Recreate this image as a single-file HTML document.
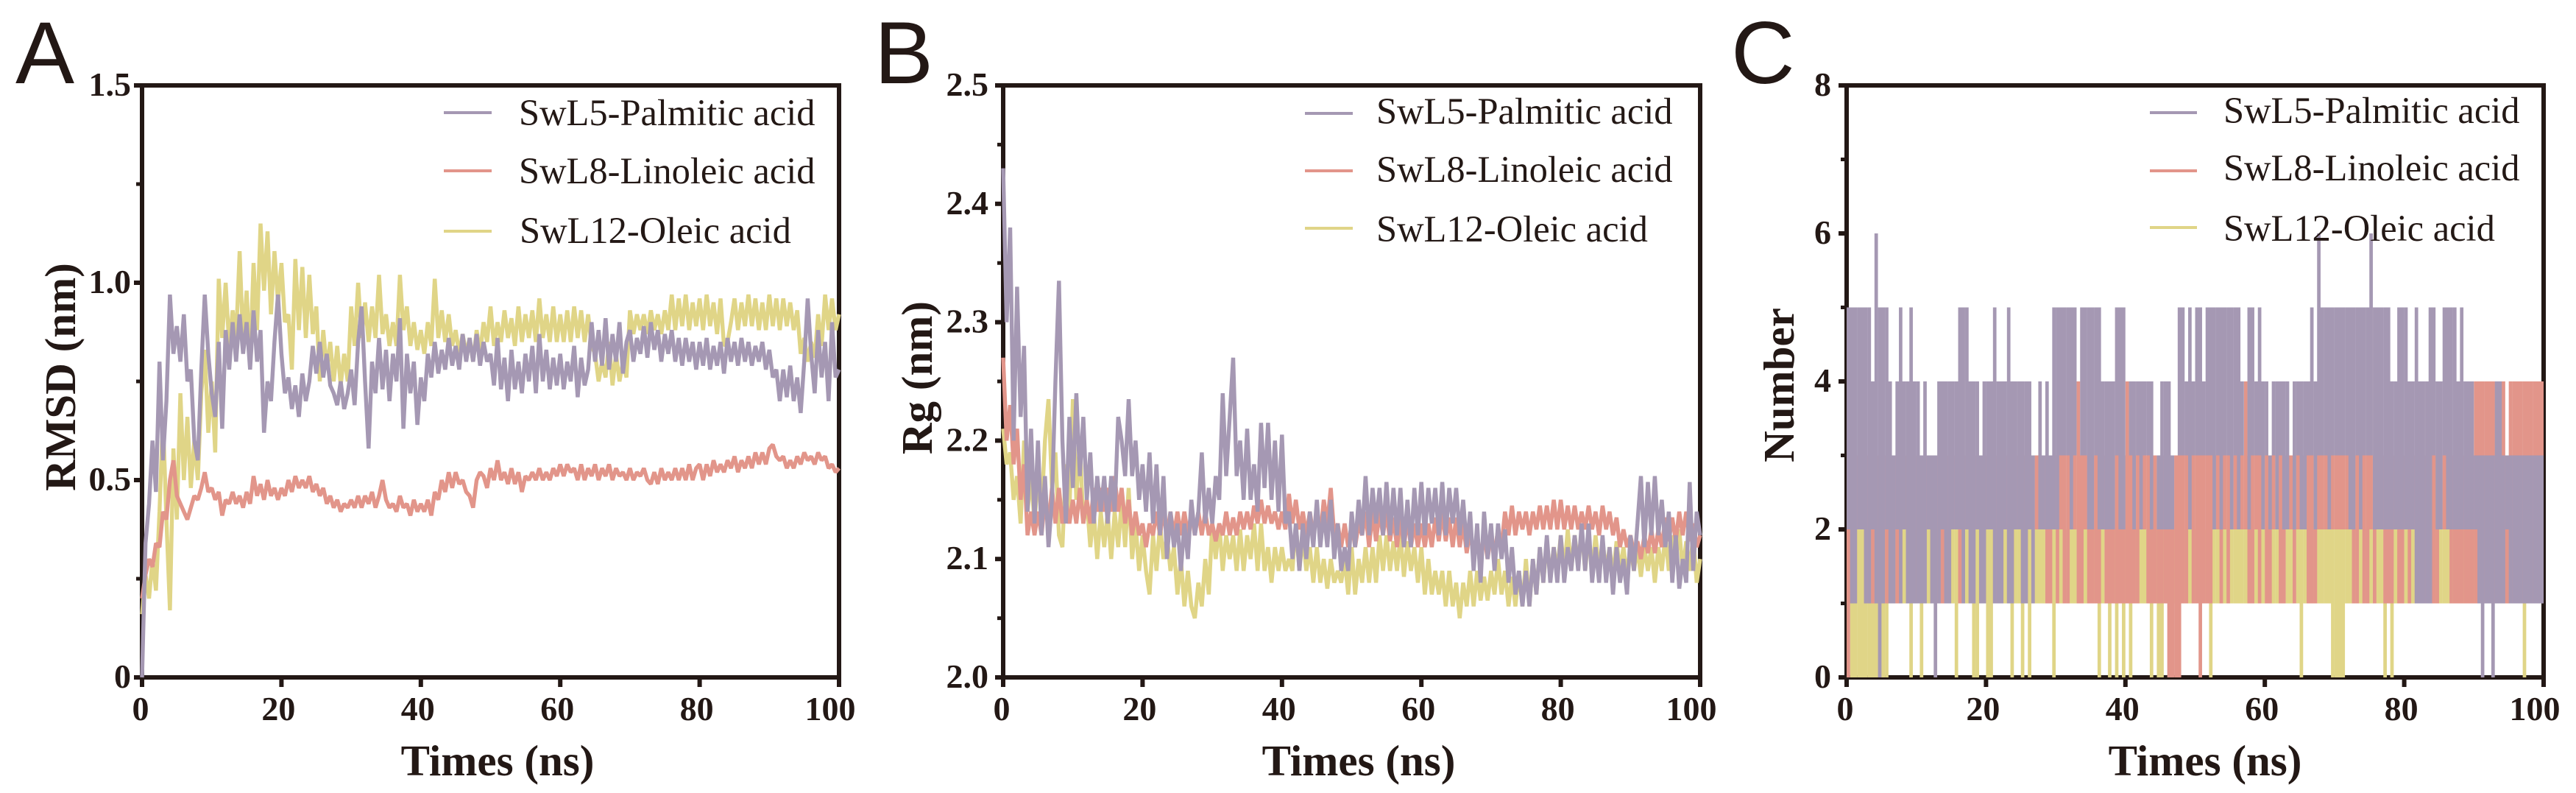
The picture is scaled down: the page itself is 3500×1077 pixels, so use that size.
<!DOCTYPE html>
<html lang="en">
<head>
<meta charset="utf-8">
<title>RMSD, Rg and hydrogen bond number</title>
<style>
html,body{margin:0;padding:0;background:#fff;}
svg{display:block;}
text{fill:#231815;font-family:"Liberation Serif",serif;}
.panel-letter{font-family:"Liberation Sans",sans-serif;font-size:120px;}
.legend{font-size:50.5px;}
.axis-title{font-size:59px;font-weight:bold;}
.tick-label{font-size:46px;font-weight:bold;}
</style>
</head>
<body>
<svg id="figure" xmlns="http://www.w3.org/2000/svg" width="3500" height="1077" viewBox="0 0 3500 1077">
<rect width="3500" height="1077" fill="#ffffff"/>

<g id="panel-a"></g>
<g id="panel-b"></g>
<g id="panel-c"></g>

<text class="panel-letter" x="21" y="113">A</text>
<text class="panel-letter" x="1188" y="113">B</text>
<text class="panel-letter" x="2352" y="113">C</text>

<text class="axis-title" x="676" y="1053" text-anchor="middle">Times (ns)</text>
<text class="axis-title" x="1846" y="1053" text-anchor="middle">Times (ns)</text>
<text class="axis-title" x="2996" y="1053" text-anchor="middle">Times (ns)</text>
<text class="axis-title" transform="translate(102,512) rotate(-90)" text-anchor="middle">RMSD (nm)</text>
<text class="axis-title" transform="translate(1266,513) rotate(-90)" text-anchor="middle">Rg (nm)</text>
<text class="axis-title" transform="translate(2437,523) rotate(-90)" text-anchor="middle">Number</text>

<g>
<line x1="603" x2="668" y1="153" y2="153" stroke="#a598b3" stroke-width="4"/>
<line x1="603" x2="668" y1="232" y2="232" stroke="#e2958a" stroke-width="4"/>
<line x1="603" x2="668" y1="314" y2="314" stroke="#e0d587" stroke-width="4"/>
<text class="legend" x="705" y="170">SwL5-Palmitic acid</text>
<text class="legend" x="705" y="249">SwL8-Linoleic acid</text>
<text class="legend" x="706" y="330">SwL12-Oleic acid</text>
</g>
<g>
<line x1="1773" x2="1838" y1="154" y2="154" stroke="#a598b3" stroke-width="4"/>
<line x1="1773" x2="1838" y1="232" y2="232" stroke="#e2958a" stroke-width="4"/>
<line x1="1773" x2="1838" y1="310" y2="310" stroke="#e0d587" stroke-width="4"/>
<text class="legend" x="1870" y="168">SwL5-Palmitic acid</text>
<text class="legend" x="1870" y="247">SwL8-Linoleic acid</text>
<text class="legend" x="1870" y="328">SwL12-Oleic acid</text>
</g>

<script>
const timeTicks=[0,20,40,60,80,100];
const timeLabels=['0','20','40','60','80','100'];

const rmsdTicks=[0,.5,1,1.5];
const rmsdLabels=['0','0.5','1.0','1.5'];
const rmsdMinorTicks=[.25,.75,1.25];
const rgTicks=[2,2.1,2.2,2.3,2.4,2.5];
const rgLabels=['2.0','2.1','2.2','2.3','2.4','2.5'];
const rgMinorTicks=[2.05,2.15,2.25,2.35,2.45];
const numberTicks=[0,2,4,6,8];
const numberLabels=['0','2','4','6','8'];
const numberMinorTicks=[1,3,5,7];

const rmsdSwl5=[
0,.34,.44,.6,.47,.8,.55,.7,.97,.82,.89,.8,.92,.75,.78,.6,.55,.78,.97,.82,
.72,.66,.85,.63,.88,.78,.9,.8,.92,.82,.9,.78,.93,.8,.88,.62,.75,.7,.85,.97,
.82,.72,.76,.68,.74,.66,.77,.7,.75,.84,.77,.85,.76,.82,.74,.72,.69,.75,.68,.72,
.78,.69,.85,.94,.75,.58,.8,.72,.86,.73,.83,.7,.82,.75,.91,.63,.82,.72,.8,.64,
.76,.7,.82,.76,.85,.77,.83,.78,.86,.79,.84,.78,.87,.8,.86,.8,.87,.79,.85,.8,
.82,.74,.86,.73,.81,.7,.83,.73,.8,.72,.82,.75,.84,.72,.87,.75,.83,.73,.81,.74,
.82,.73,.8,.75,.84,.71,.81,.74,.78,.9,.8,.88,.79,.91,.78,.87,.8,.9,.77,.85,
.88,.8,.86,.82,.89,.81,.9,.83,.88,.8,.87,.82,.88,.8,.86,.79,.86,.8,.85,.78,
.85,.79,.86,.78,.84,.79,.85,.77,.86,.8,.85,.79,.86,.8,.85,.79,.84,.8,.85,.78,
.83,.76,.78,.7,.78,.71,.79,.7,.76,.67,.8,.96,.82,.72,.88,.76,.85,.7,.9,.76,
.78];
const rmsdSwl8=[
.2,.26,.3,.28,.34,.33,.42,.4,.5,.55,.46,.44,.42,.4,.43,.46,.45,.48,.52,.47,
.48,.45,.47,.41,.45,.44,.47,.44,.46,.43,.47,.44,.51,.46,.49,.45,.5,.46,.48,.45,
.48,.46,.5,.47,.51,.48,.5,.48,.51,.47,.49,.46,.48,.44,.46,.43,.45,.42,.44,.43,
.45,.43,.46,.43,.46,.44,.47,.43,.46,.5,.45,.43,.44,.42,.46,.43,.44,.41,.45,.42,
.44,.42,.45,.41,.47,.45,.5,.47,.52,.48,.52,.49,.5,.47,.46,.43,.5,.52,.51,.48,
.53,.5,.55,.5,.52,.49,.53,.49,.52,.47,.51,.5,.52,.5,.53,.5,.52,.5,.53,.51,
.54,.51,.54,.52,.53,.5,.54,.5,.53,.51,.54,.5,.53,.51,.54,.5,.53,.51,.52,.5,
.53,.5,.52,.51,.53,.5,.49,.52,.49,.53,.5,.52,.5,.53,.5,.53,.5,.54,.5,.53,
.54,.5,.54,.51,.55,.52,.54,.52,.55,.53,.56,.52,.55,.53,.56,.53,.57,.54,.57,.54,
.58,.59,.56,.55,.56,.53,.55,.53,.56,.54,.57,.55,.56,.54,.57,.55,.56,.53,.54,.52,
.53];
const rmsdSwl12=[
.16,.26,.2,.3,.22,.42,.66,.4,.17,.58,.4,.72,.5,.66,.48,.6,.5,.72,.83,.62,
.75,.57,1.01,.86,1,.84,.93,.86,1.08,.85,.98,.8,1.05,.88,1.15,.98,1.13,.92,1.08,.95,
1.05,.9,.92,.78,1.06,.88,1.04,.86,1.02,.87,.94,.75,.88,.78,.85,.75,.84,.74,.82,.75,
.94,.84,1,.86,.95,.85,.94,.86,1.02,.87,.92,.84,.9,.84,1.02,.88,.94,.84,.9,.83,
.88,.82,.9,.84,1.01,.86,.93,.85,.92,.84,.88,.82,.87,.82,.86,.8,.88,.82,.9,.85,
.94,.84,.9,.85,.93,.86,.91,.84,.94,.85,.92,.86,.93,.85,.96,.86,.92,.85,.94,.85,
.92,.85,.93,.85,.94,.86,.93,.85,.92,.84,.82,.75,.8,.76,.85,.74,.82,.75,.8,.76,
.93,.87,.92,.88,.92,.87,.93,.88,.92,.87,.93,.88,.97,.88,.96,.89,.97,.88,.95,.89,
.96,.88,.97,.89,.95,.87,.96,.84,.85,.9,.96,.88,.95,.89,.97,.89,.96,.88,.95,.88,
.97,.89,.96,.88,.96,.89,.95,.88,.93,.82,.86,.8,.85,.81,.92,.84,.97,.88,.96,.88,
.92];

const rgSwl5=[
2.43,2.3,2.38,2.2,2.33,2.22,2.28,2.14,2.21,2.13,2.2,2.12,2.17,2.11,2.15,2.25,2.335,2.2,2.13,2.22,
2.16,2.24,2.17,2.22,2.15,2.19,2.13,2.17,2.14,2.17,2.13,2.17,2.14,2.22,2.2,2.17,2.235,2.17,2.2,2.15,
2.18,2.14,2.19,2.13,2.18,2.12,2.17,2.1,2.14,2.11,2.13,2.09,2.13,2.1,2.15,2.12,2.14,2.19,2.13,2.16,
2.13,2.17,2.15,2.24,2.17,2.22,2.27,2.17,2.2,2.15,2.21,2.15,2.18,2.14,2.215,2.16,2.215,2.15,2.2,2.14,
2.205,2.13,2.14,2.1,2.13,2.09,2.13,2.1,2.14,2.11,2.15,2.11,2.14,2.11,2.15,2.1,2.13,2.09,2.11,2.09,
2.14,2.11,2.15,2.12,2.17,2.12,2.16,2.13,2.16,2.12,2.165,2.12,2.16,2.12,2.16,2.11,2.15,2.11,2.16,2.12,
2.165,2.12,2.16,2.13,2.16,2.12,2.165,2.12,2.16,2.13,2.16,2.12,2.15,2.11,2.14,2.09,2.13,2.08,2.14,2.1,
2.13,2.09,2.13,2.1,2.125,2.08,2.11,2.07,2.09,2.06,2.09,2.06,2.1,2.07,2.11,2.08,2.12,2.08,2.11,2.08,
2.12,2.08,2.11,2.09,2.12,2.09,2.13,2.09,2.13,2.08,2.11,2.08,2.12,2.08,2.11,2.07,2.11,2.08,2.1,2.07,
2.12,2.09,2.13,2.17,2.11,2.165,2.12,2.17,2.12,2.15,2.11,2.14,2.08,2.12,2.075,2.1,2.08,2.165,2.09,2.14,
2.12];
const rgSwl8=[
2.27,2.2,2.23,2.18,2.21,2.15,2.18,2.12,2.14,2.12,2.14,2.12,2.15,2.13,2.16,2.13,2.16,2.13,2.15,2.13,
2.15,2.13,2.16,2.13,2.15,2.13,2.16,2.14,2.16,2.14,2.16,2.14,2.17,2.14,2.16,2.13,2.15,2.12,2.14,2.12,
2.13,2.11,2.13,2.12,2.14,2.12,2.14,2.12,2.14,2.12,2.14,2.12,2.14,2.12,2.14,2.12,2.14,2.12,2.14,2.12,
2.13,2.115,2.13,2.12,2.14,2.12,2.135,2.12,2.14,2.125,2.14,2.125,2.145,2.13,2.15,2.13,2.145,2.13,2.14,2.125,
2.14,2.125,2.155,2.13,2.15,2.125,2.14,2.12,2.14,2.12,2.14,2.12,2.15,2.13,2.16,2.12,2.13,2.11,2.13,2.11,
2.13,2.11,2.13,2.12,2.14,2.11,2.14,2.115,2.14,2.12,2.14,2.115,2.135,2.11,2.135,2.11,2.135,2.11,2.13,2.11,
2.13,2.11,2.13,2.11,2.135,2.115,2.14,2.115,2.135,2.11,2.135,2.11,2.13,2.105,2.125,2.1,2.12,2.1,2.12,2.1,
2.12,2.105,2.125,2.11,2.14,2.12,2.145,2.12,2.14,2.125,2.14,2.12,2.14,2.125,2.145,2.125,2.145,2.125,2.15,2.125,
2.15,2.125,2.145,2.125,2.145,2.125,2.14,2.125,2.145,2.125,2.14,2.12,2.145,2.125,2.14,2.12,2.135,2.11,2.125,2.11,
2.12,2.105,2.115,2.1,2.12,2.105,2.125,2.105,2.125,2.11,2.135,2.115,2.135,2.115,2.14,2.12,2.14,2.115,2.13,2.11,
2.12];
const rgSwl12=[
2.21,2.18,2.19,2.15,2.17,2.13,2.2,2.14,2.17,2.13,2.17,2.14,2.2,2.235,2.16,2.19,2.12,2.11,2.18,2.14,
2.235,2.15,2.2,2.13,2.15,2.11,2.14,2.1,2.14,2.11,2.14,2.1,2.14,2.11,2.15,2.11,2.16,2.1,2.13,2.09,
2.12,2.09,2.07,2.12,2.09,2.13,2.1,2.12,2.09,2.11,2.07,2.1,2.06,2.09,2.06,2.05,2.08,2.06,2.1,2.07,
2.13,2.1,2.13,2.09,2.12,2.1,2.12,2.09,2.125,2.09,2.12,2.1,2.13,2.09,2.13,2.09,2.11,2.08,2.11,2.09,
2.11,2.09,2.1,2.09,2.13,2.09,2.12,2.09,2.11,2.08,2.11,2.08,2.1,2.075,2.1,2.08,2.09,2.08,2.1,2.07,
2.11,2.07,2.1,2.08,2.11,2.08,2.11,2.08,2.12,2.09,2.12,2.09,2.115,2.09,2.12,2.085,2.115,2.09,2.11,2.08,
2.11,2.07,2.1,2.07,2.09,2.07,2.09,2.06,2.09,2.06,2.08,2.05,2.08,2.06,2.09,2.06,2.09,2.065,2.085,2.065,
2.09,2.07,2.1,2.07,2.09,2.06,2.085,2.06,2.09,2.06,2.1,2.06,2.1,2.07,2.11,2.08,2.115,2.085,2.11,2.09,
2.12,2.09,2.125,2.09,2.12,2.095,2.125,2.09,2.12,2.09,2.12,2.09,2.115,2.09,2.11,2.085,2.115,2.09,2.11,2.085,
2.11,2.09,2.11,2.085,2.11,2.09,2.11,2.08,2.11,2.09,2.12,2.09,2.12,2.1,2.125,2.09,2.115,2.09,2.12,2.08,
2.1];

/* Hydrogen bond count range in each 0.5 ns bin */
const numberSwl5High=[
5,5,5,5,5,5,5,4,6,5,5,5,4,3,4,5,4,4,5,4,
4,3,4,3,3,3,4,4,4,4,4,4,5,5,5,4,4,4,3,4,
4,4,5,4,4,4,5,4,4,4,4,4,4,3,3,4,3,4,3,5,
5,5,5,5,5,5,3,5,5,5,5,5,5,4,4,4,4,5,5,5,
3,4,4,4,4,4,4,4,3,3,4,4,4,3,3,5,5,4,5,4,
5,5,4,5,5,5,5,5,5,5,5,5,5,4,3,5,5,4,5,4,
4,3,4,4,4,4,4,3,4,4,4,4,4,5,4,6,5,5,5,5,
5,5,5,5,5,5,5,5,5,5,6,5,5,5,5,5,4,4,5,5,
5,4,4,5,4,4,4,5,5,4,4,5,5,5,5,4,5,4,4,4,
3,3,3,3,3,3,4,4,3,3,3,3,3,3,3,3,3,3,3,3];
const numberSwl5Low=[
2,1,1,2,2,1,1,2,1,0,1,2,1,1,2,1,2,1,1,1,
1,1,1,2,1,0,1,2,1,1,2,2,2,1,2,1,1,2,1,1,
2,2,1,1,1,2,1,1,2,2,1,1,2,1,3,2,2,2,2,2,
2,3,3,3,2,3,3,3,3,2,2,3,2,2,2,2,2,3,2,2,
3,3,2,3,2,3,3,2,3,2,2,2,2,2,3,3,3,3,2,3,
3,3,3,3,3,2,3,2,3,3,2,3,2,3,3,2,3,3,3,2,
3,2,3,2,3,2,2,3,2,3,2,2,3,3,2,3,3,3,2,3,
3,3,3,3,2,2,3,2,3,3,3,2,2,2,2,2,2,2,2,2,
2,2,2,1,1,1,1,1,3,2,2,3,2,2,2,2,2,2,2,2,
2,1,0,1,1,0,1,1,1,2,1,1,1,1,1,1,1,1,1,1];
const numberSwl8High=[
3,3,3,3,3,3,3,3,3,3,3,3,3,3,3,3,3,3,3,3,
3,3,3,3,3,3,3,3,3,3,3,3,3,3,3,3,3,3,3,3,
3,3,3,3,3,3,3,3,3,3,3,3,3,3,3,3,3,3,3,3,
3,3,3,3,3,3,4,3,3,3,3,3,3,3,3,3,3,3,3,3,
4,3,3,3,3,3,3,3,3,3,3,3,3,3,3,3,3,3,3,3,
3,3,3,3,3,3,3,3,3,3,3,3,3,3,4,3,3,3,3,3,
3,3,3,3,3,3,3,3,3,3,3,3,3,3,3,3,3,3,3,3,
3,3,3,3,3,3,3,3,3,3,3,3,3,3,3,3,3,3,3,3,
3,3,3,3,3,3,3,3,3,3,3,3,3,3,3,3,3,3,3,3,
4,4,4,4,4,4,4,4,4,3,4,4,4,4,4,4,4,4,4,4];
const numberSwl8Low=[
0,1,1,2,2,1,1,1,1,1,1,1,1,1,1,1,2,1,1,1,
1,1,1,2,1,1,1,1,1,1,2,2,1,1,2,1,1,2,1,1,
2,2,1,1,1,2,1,1,2,2,1,1,2,1,2,2,2,1,1,2,
1,2,1,1,2,2,1,1,2,1,1,1,1,2,1,1,1,1,1,1,
1,1,1,1,2,2,1,1,1,1,1,1,0,0,0,0,1,1,2,1,
1,0,1,1,1,2,2,1,2,1,2,2,2,2,2,1,1,2,1,2,
1,1,2,2,1,1,2,2,1,2,2,2,1,1,1,2,2,2,2,2,
2,2,2,2,2,1,1,2,1,1,2,1,2,2,1,1,1,2,1,1,
2,1,2,1,1,1,1,1,1,1,2,2,2,1,1,1,1,1,1,1,
1,1,1,1,1,1,1,1,1,1,1,1,1,1,1,1,1,1,1,1];
const numberSwl12High=[
2,2,2,2,2,2,2,2,2,2,2,2,2,2,2,2,2,2,2,2,
2,2,2,2,2,2,2,2,2,2,2,2,2,2,2,2,2,2,2,2,
2,2,2,2,2,2,2,2,2,2,2,2,2,2,2,2,2,2,2,2,
2,2,2,2,2,2,2,2,2,2,2,2,2,2,2,2,2,2,2,2,
2,2,2,2,2,2,2,2,2,2,2,2,2,2,2,2,2,2,2,2,
2,2,2,2,2,2,2,2,2,2,2,2,2,2,2,2,2,2,2,2,
2,2,2,2,2,2,2,2,2,2,2,2,2,2,2,2,2,2,2,2,
2,2,2,2,2,2,2,2,2,2,2,2,2,2,2,2,2,2,2,2,
2,2,2,2,2,2,2,2,2,2,2,2,2,2,2,2,2,2,2,2,
2,2,2,2,2,2,2,2,2,2,2,2,2,2,2,2,2,2,2,2];
const numberSwl12Low=[
1,0,0,0,0,0,0,0,0,0,0,0,1,1,1,1,1,1,0,1,
1,0,1,1,1,1,1,1,1,1,1,0,1,1,1,1,0,0,1,1,
0,0,1,1,1,1,1,0,1,1,0,1,0,1,1,1,1,1,1,0,
1,1,1,1,1,1,1,1,1,1,1,1,0,1,1,0,1,0,1,0,
1,0,1,1,1,1,1,0,1,0,0,1,1,1,1,1,1,1,1,1,
1,1,1,1,0,1,1,1,1,1,1,1,1,1,1,1,1,1,1,1,
1,1,1,1,1,1,1,1,1,1,0,1,1,1,1,1,1,1,1,0,
0,0,0,1,1,1,1,1,1,1,1,1,1,1,0,1,0,1,1,1,
1,1,1,1,1,1,1,1,1,1,1,1,1,1,1,1,1,1,1,1,
1,1,1,1,1,1,1,1,1,1,1,1,1,1,0,1,1,1,1,1];

const INK='#231815';
const PURPLE='#a598b3';
const RED='#e2958a';
const YELLOW='#e0d587';
const SVGNS='http://www.w3.org/2000/svg';
const PLOT_TOP=116;
const PLOT_BOTTOM=920;

function scaleX(x0,x1){
  return function(t){return x0+(x1-x0)*t/100;};
}
function scaleY(min,max){
  return function(v){return PLOT_BOTTOM-(PLOT_BOTTOM-PLOT_TOP)*(v-min)/(max-min);};
}
function addLine(parent,x1,y1,x2,y2,width,name){
  const el=document.createElementNS(SVGNS,'line');
  el.setAttribute('x1',x1);el.setAttribute('y1',y1);
  el.setAttribute('x2',x2);el.setAttribute('y2',y2);
  el.setAttribute('stroke',INK);el.setAttribute('stroke-width',width);
  
  
  parent.appendChild(el);
}
function addLabel(parent,x,y,anchor,content,name){
  const el=document.createElementNS(SVGNS,'text');
  el.setAttribute('class','tick-label');
  el.setAttribute('x',x);el.setAttribute('y',y);
  el.setAttribute('text-anchor',anchor);
  el.textContent=content;
  
  
  parent.appendChild(el);
}
function drawAxes(group,x,y,x0,x1,yValues,yText,yMinor,labelRight){
  const frame=document.createElementNS(SVGNS,'rect');
  frame.setAttribute('x',x0);frame.setAttribute('y',PLOT_TOP);
  frame.setAttribute('width',x1-x0);frame.setAttribute('height',PLOT_BOTTOM-PLOT_TOP);
  frame.setAttribute('fill','none');frame.setAttribute('stroke',INK);frame.setAttribute('stroke-width',6);
  
  
  group.appendChild(frame);
  timeTicks.forEach(function(t,i){
    addLine(group,x(t),PLOT_BOTTOM,x(t),PLOT_BOTTOM+13,6,'x-tick');
    const shift=i===0?-2:(i===5?-12:-4);
    addLabel(group,x(t)+shift,978,'middle',timeLabels[i],'x-tick-label');
  });
  yValues.forEach(function(v,i){
    addLine(group,x0-11,y(v),x0,y(v),6,'y-tick');
    addLabel(group,labelRight,y(v)+14,'end',yText[i],'y-tick-label');
  });
  yMinor.forEach(function(v){
    addLine(group,x0-8,y(v),x0,y(v),5,'y-minor-tick');
  });
}
function drawTrace(group,x,y,values,color,name){
  let d='';
  values.forEach(function(v,i){
    d+=(i?'L':'M')+x(i*100/(values.length-1)).toFixed(1)+' '+y(v).toFixed(1);
  });
  const el=document.createElementNS(SVGNS,'path');
  el.setAttribute('d',d);
  el.setAttribute('fill','none');el.setAttribute('stroke',color);
  el.setAttribute('stroke-width',5.4);el.setAttribute('stroke-linejoin','bevel');
  
  
  group.appendChild(el);
}
function drawRanges(group,x,y,lows,highs,color,name){
  let d='';
  lows.forEach(function(low,i){
    if(highs[i]>low){
      const cx=x(i*0.5+0.25).toFixed(1);
      d+='M'+cx+' '+y(low).toFixed(1)+'V'+y(highs[i]).toFixed(1);
    }
  });
  const el=document.createElementNS(SVGNS,'path');
  el.setAttribute('d',d);
  el.setAttribute('fill','none');el.setAttribute('stroke',color);
  el.setAttribute('stroke-width',(x(0.5)-x(0)).toFixed(2));
  
  
  group.appendChild(el);
}

const panelA=document.getElementById('panel-a');
const ax=scaleX(193,1140);
const ay=scaleY(0,1.5);
drawAxes(panelA,ax,ay,193,1140,rmsdTicks,rmsdLabels,rmsdMinorTicks,178);
drawTrace(panelA,ax,ay,rmsdSwl12,YELLOW,'rmsd-series-swl12');
drawTrace(panelA,ax,ay,rmsdSwl8,RED,'rmsd-series-swl8');
drawTrace(panelA,ax,ay,rmsdSwl5,PURPLE,'rmsd-series-swl5');

const panelB=document.getElementById('panel-b');
const bx=scaleX(1363,2310);
const by=scaleY(2,2.5);
drawAxes(panelB,bx,by,1363,2310,rgTicks,rgLabels,rgMinorTicks,1343);
drawTrace(panelB,bx,by,rgSwl12,YELLOW,'rg-series-swl12');
drawTrace(panelB,bx,by,rgSwl8,RED,'rg-series-swl8');
drawTrace(panelB,bx,by,rgSwl5,PURPLE,'rg-series-swl5');

const panelC=document.getElementById('panel-c');
const cx=scaleX(2509,3456);
const cy=scaleY(0,8);
drawAxes(panelC,cx,cy,2509,3456,numberTicks,numberLabels,numberMinorTicks,2488);
drawRanges(panelC,cx,cy,numberSwl12Low,numberSwl12High,YELLOW,'number-series-swl12');
drawRanges(panelC,cx,cy,numberSwl8Low,numberSwl8High,RED,'number-series-swl8');
drawRanges(panelC,cx,cy,numberSwl5Low,numberSwl5High,PURPLE,'number-series-swl5');
</script>

<g>
<line x1="2921" x2="2985" y1="153" y2="153" stroke="#a598b3" stroke-width="4"/>
<line x1="2921" x2="2985" y1="232" y2="232" stroke="#e2958a" stroke-width="4"/>
<line x1="2921" x2="2985" y1="309" y2="309" stroke="#e0d587" stroke-width="4"/>
<text class="legend" x="3021" y="167">SwL5-Palmitic acid</text>
<text class="legend" x="3021" y="245">SwL8-Linoleic acid</text>
<text class="legend" x="3021" y="327">SwL12-Oleic acid</text>
</g>
</svg>
</body>
</html>
